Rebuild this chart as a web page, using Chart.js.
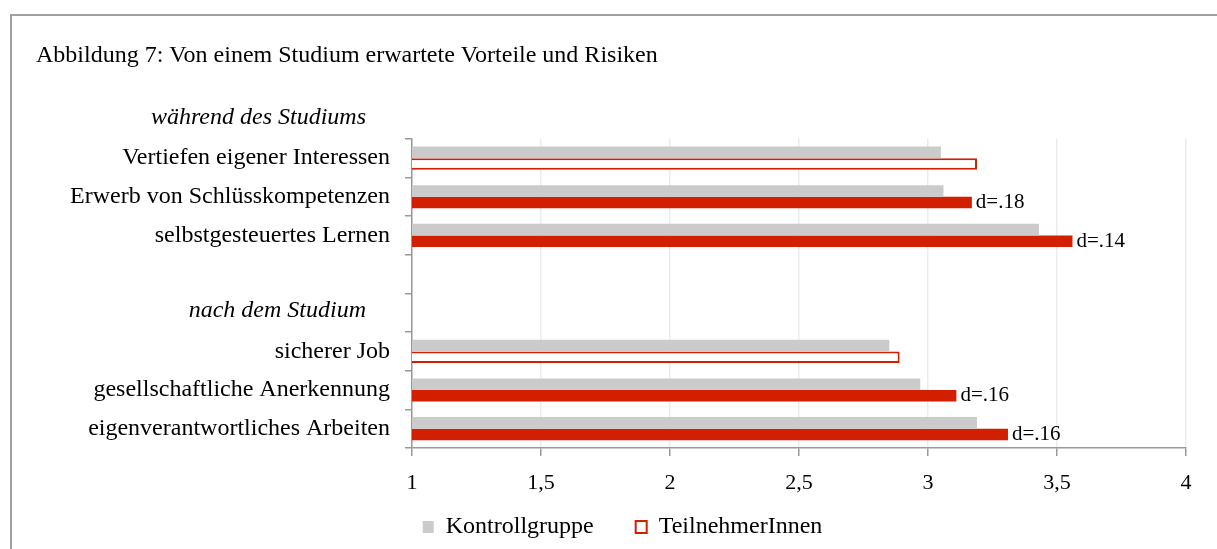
<!DOCTYPE html>
<html>
<head>
<meta charset="utf-8">
<script src="https://cdn.jsdelivr.net/npm/chart.js@4.4.1/dist/chart.umd.min.js"></script>
<style>
body { margin: 0; background: #fff; }
#frame { position: absolute; left: 10px; top: 14px; width: 1240px; height: 560px;
         border-left: 2px solid #a0a0a0; border-top: 2px solid #a0a0a0; }
</style>
</head>
<body>
<div id="frame"><canvas id="myChart" width="1205" height="533"></canvas></div>
<script>
// Kategorien (Zeilen 3 und 4 sind Leerzeilen für die Abschnittsüberschrift)
var categories = [
    'Vertiefen eigener Interessen',
    'Erwerb von Schlüsskompetenzen',
    'selbstgesteuertes Lernen',
    '',
    '',
    'sicherer Job',
    'gesellschaftliche Anerkennung',
    'eigenverantwortliches Arbeiten'
];
var kontrollgruppe = [3.05, 3.06, 3.43, null, null, 2.85, 2.97, 3.19];
var teilnehmer = [3.19, 3.17, 3.56, null, null, 2.89, 3.11, 3.31];
var effekt = ['', 'd=.18', 'd=.14', '', '', '', 'd=.16', 'd=.16'];

var abschnitte = ['während des Studiums', 'nach dem Studium'];
var abschnittZeile = [-1, 4];

var xTickLabels = ['1', '1,5', '2', '2,5', '3', '3,5', '4'];

var grau = '#cbcbcb';
var rot = '#d11f00';
var serif = 'Liberation Serif';

function hohl(i) {
    return effekt[i] === '';
}

var beschriftung = {
    id: 'beschriftung',
    afterDatasetsDraw: function (chart) {
        var ctx = chart.ctx;
        var y = chart.scales.y;
        var area = chart.chartArea;
        ctx.save();
        ctx.fillStyle = '#000';
        ctx.textBaseline = 'middle';

        // Abschnittsüberschriften
        ctx.font = 'italic 24px "' + serif + '"';
        ctx.textAlign = 'right';
        abschnitte.forEach(function (t, k) {
            ctx.fillText(t, area.left - 46, y.getPixelForValue(abschnittZeile[k]) - 2);
        });

        // Effektstärken hinter den Balken
        ctx.font = '21px "' + serif + '"';
        ctx.textAlign = 'left';
        var meta = chart.getDatasetMeta(1);
        meta.data.forEach(function (bar, i) {
            if (effekt[i]) {
                ctx.fillText(effekt[i], bar.x + 4, bar.y);
            }
        });
        ctx.restore();
    }
};

var ctx = document.getElementById('myChart').getContext('2d');
var myChart = new Chart(ctx, {
    type: 'bar',
    data: {
        labels: categories,
        datasets: [
            {
                label: 'Kontrollgruppe',
                data: kontrollgruppe,
                backgroundColor: grau,
                borderWidth: 0,
                categoryPercentage: 0.6,
                barPercentage: 1
            },
            {
                label: 'TeilnehmerInnen',
                data: teilnehmer,
                backgroundColor: function (c) {
                    if (c.type !== 'data') return '#fff';
                    return hohl(c.dataIndex) ? '#fff' : rot;
                },
                borderColor: rot,
                borderWidth: function (c) {
                    if (c.type !== 'data') return 2;
                    return hohl(c.dataIndex) ? 2 : 0;
                },
                categoryPercentage: 0.6,
                barPercentage: 1
            }
        ]
    },
    options: {
        indexAxis: 'y',
        responsive: false,
        animation: false,
        layout: {
            padding: { left: 24, right: 31, top: 0, bottom: 0 }
        },
        plugins: {
            title: {
                display: true,
                text: 'Abbildung 7: Von einem Studium erwartete Vorteile und Risiken',
                align: 'start',
                color: '#000',
                font: { family: serif, size: 24, weight: 'normal' },
                padding: { top: 25, bottom: 69 }
            },
            legend: {
                position: 'bottom',
                labels: {
                    color: '#000',
                    font: { family: serif, size: 24 },
                    boxWidth: 11,
                    boxHeight: 12,
                    padding: 12,
                    generateLabels: function (chart) {
                        var items = Chart.defaults.plugins.legend.labels.generateLabels(chart);
                        // Abstand zwischen den Einträgen wie im Original
                        items[0].text = items[0].text + '     ';
                        items[1].text = items[1].text + '  ';
                        // leerer Platzhalter links, damit die Legende etwas nach rechts rückt
                        items.unshift({ text: '', fillStyle: 'rgba(0,0,0,0)', strokeStyle: 'rgba(0,0,0,0)', lineWidth: 0, hidden: false, datasetIndex: -1 });
                        return items;
                    }
                },
                onClick: function () {}
            },
            tooltip: { enabled: false }
        },
        scales: {
            x: {
                min: 1,
                max: 4,
                ticks: {
                    stepSize: 0.5,
                    color: '#000',
                    padding: 14,
                    font: { family: serif, size: 22 },
                    callback: function (v, i) {
                        return xTickLabels[i];
                    }
                },
                grid: {
                    color: '#ececec',
                    tickColor: '#999',
                    tickLength: 8,
                    lineWidth: 1.5
                },
                border: { color: '#999', width: 1.5 },
                afterFit: function (scale) {
                    scale.height = 55;
                }
            },
            y: {
                ticks: {
                    color: '#000',
                    padding: 15,
                    autoSkip: false,
                    font: { family: serif, size: 24 }
                },
                grid: {
                    drawOnChartArea: false,
                    tickColor: '#999',
                    tickLength: 7,
                    lineWidth: 1.5
                },
                border: { color: '#999', width: 1.5 },
                afterFit: function (scale) {
                    scale.width = 376;
                }
            }
        }
    },
    plugins: [beschriftung]
});
</script>
</body>
</html>
